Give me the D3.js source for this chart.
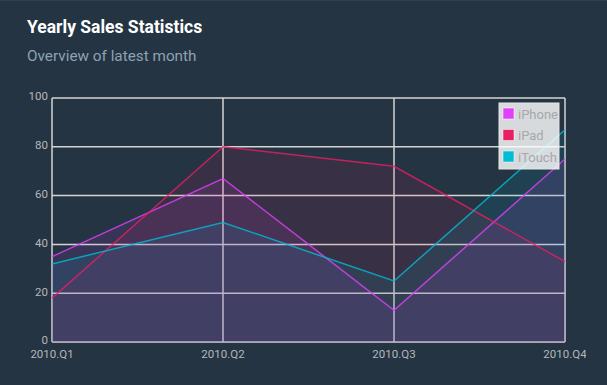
<!DOCTYPE html>
<html>
<head>
<meta charset="utf-8">
<script src="https://cdn.jsdelivr.net/npm/d3@7"></script>
<style>
  body { margin: 0; background: #243442; }
  svg { display: block; font-family: Roboto, sans-serif; }
</style>
</head>
<body>
<svg id="svg1" width="607" height="385"></svg>
<script>
var quarters = ["2010.Q1", "2010.Q2", "2010.Q3", "2010.Q4"];
var seriesNames = ["iPhone", "iPad", "iTouch"];
var iphone = [35, 67, 13, 75];
var ipad = [18, 80, 72, 33];
var itouch = [32, 49, 25, 87];
var yTicks = [0, 20, 40, 60, 80, 100];
var colors = ["#e040fb", "#e91e63", "#00bcd4"];

var series = [iphone, ipad, itouch].map(function(vals, i) {
  return { name: seriesNames[i], color: colors[i],
    values: vals.map(function(v, j) { return { q: quarters[j], v: v }; }) };
});

var svg = d3.select("#svg1"),
  margin = {top: 98, right: 42, bottom: 43, left: 52},
  width = +svg.attr("width") - margin.left - margin.right,
  height = +svg.attr("height") - margin.top - margin.bottom;

svg.append("rect").attr("width", 607).attr("height", 385).attr("fill", "#243442");
svg.append("line").attr("x1", 0).attr("x2", 607).attr("y1", 0.5).attr("y2", 0.5)
  .attr("stroke", "#2f4150");

svg.append("text").attr("x", 27).attr("y", 33)
  .attr("fill", "#ffffff").attr("font-size", 17.5).attr("font-weight", "bold")
  .text("Yearly Sales Statistics");
svg.append("text").attr("x", 27).attr("y", 61)
  .attr("fill", "#8da2b5").attr("font-size", 15.3)
  .text("Overview of latest month");

svg.append("clipPath").attr("id", "cl").append("rect")
  .attr("width", 586).attr("height", 385);

var g = svg.append("g").attr("clip-path", "url(#cl)")
  .append("g").attr("transform", "translate(" + margin.left + "," + margin.top + ")");

var x = d3.scalePoint().domain(quarters).range([0, width]);
var y = d3.scaleLinear().domain([0, 100]).range([height, 0]);

// grid
g.selectAll(".hgrid").data(yTicks).enter().append("line")
  .attr("x1", 0).attr("x2", width)
  .attr("y1", function(d) { return y(d); }).attr("y2", function(d) { return y(d); })
  .attr("stroke", "#d4d4d4").attr("stroke-width", 1.5);
g.selectAll(".vgrid").data(quarters).enter().append("line")
  .attr("y1", 0).attr("y2", height)
  .attr("x1", function(d) { return x(d); }).attr("x2", function(d) { return x(d); })
  .attr("stroke", "#d4d4d4").attr("stroke-width", 1.5);

// axis labels
g.selectAll(".ylab").data(yTicks).enter().append("text")
  .attr("x", -4).attr("y", function(d) { return y(d); }).attr("dy", "0.2em")
  .attr("text-anchor", "end").attr("fill", "#b4b8bc").attr("font-size", 11.5)
  .text(function(d) { return d; });
g.selectAll(".xlab").data(quarters).enter().append("text")
  .attr("x", function(d) { return x(d); }).attr("y", height + 16)
  .attr("text-anchor", "middle").attr("fill", "#b4b8bc").attr("font-size", 11.5)
  .text(function(d) { return d; });

var area = d3.area()
  .x(function(d) { return x(d.q); })
  .y0(y(0))
  .y1(function(d) { return y(d.v); });
var line = d3.line()
  .x(function(d) { return x(d.q); })
  .y(function(d) { return y(d.v); });

g.selectAll(".area").data(series).enter().append("path")
  .attr("d", function(d) { return area(d.values); })
  .attr("fill", function(d) { return d.color; })
  .attr("fill-opacity", 0.1);
g.selectAll(".line").data(series).enter().append("path")
  .attr("d", function(d) { return line(d.values); })
  .attr("fill", "none")
  .attr("stroke", function(d) { return d.color; })
  .attr("stroke-opacity", 0.8)
  .attr("stroke-width", 1.5);

// legend
var lg = svg.append("g").attr("transform", "translate(499,103)");
lg.append("rect").attr("width", 60).attr("height", 66)
  .attr("fill", "#ffffff").attr("fill-opacity", 0.82)
  .attr("stroke", "#e6e6e6");
var item = lg.selectAll(".item").data(series).enter().append("g")
  .attr("transform", function(d, i) { return "translate(4," + (11 + i * 21.5) + ")"; });
item.append("rect").attr("x", 0).attr("y", -6).attr("width", 11).attr("height", 11)
  .attr("fill", function(d) { return d.color; })
  .attr("stroke", "#ffffff").attr("stroke-opacity", 0.5);
item.append("text").attr("x", 15).attr("y", 0).attr("dy", "0.35em")
  .attr("fill", "#a8a8a8").attr("font-size", 13)
  .text(function(d) { return d.name; });
</script>
</body>
</html>
